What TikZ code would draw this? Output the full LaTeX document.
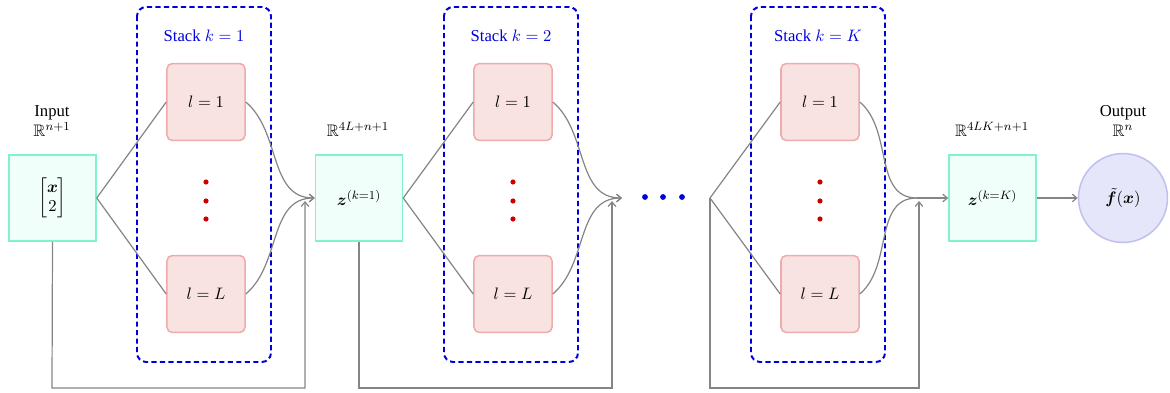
\documentclass[tikz,border=0pt]{standalone}
\usepackage{amsmath,amssymb}
\usepackage{bm}
\usepackage{fontspec}
\setmainfont{Liberation Serif}
\usetikzlibrary{arrows.meta}
\definecolor{tealB}{HTML}{80F2D2}
\definecolor{tealF}{HTML}{F0FFFA}
\definecolor{pinkB}{HTML}{F0AAAA}
\definecolor{pinkF}{HTML}{F8E2E2}
\definecolor{lavB}{HTML}{C0C0F0}
\definecolor{lavF}{HTML}{E6E6FA}
\definecolor{lineG}{HTML}{858585}
\definecolor{dotR}{HTML}{CC0000}
\definecolor{stackB}{HTML}{0000DD}
\tikzset{
  every node/.style={font=\fontsize{11}{13}\selectfont},
  vecbox/.style={draw=tealB, fill=tealF, line width=1pt, minimum width=57.4pt, minimum height=56.8pt, inner sep=0pt},
  layerbox/.style={draw=pinkB, fill=pinkF, line width=1pt, rounded corners=3.5pt, minimum width=51.5pt, minimum height=50.8pt, inner sep=0pt},
  outcirc/.style={circle, draw=lavB, fill=lavF, line width=1pt, minimum size=58.7pt, inner sep=0pt},
  stackbox/.style={draw=stackB, line width=1.3pt, dash pattern=on 3.4pt off 2.2pt, rounded corners=6pt},
  conn/.style={draw=lineG, line width=0.8pt},
  arr/.style={conn, -{Straight Barb[length=3pt,width=5pt]}},
  reddot/.style={circle, fill=dotR, inner sep=0pt, minimum size=3.4pt},
  bluedot/.style={circle, fill=stackB, inner sep=0pt, minimum size=3.8pt},
  stacklabel/.style={text=stackB, anchor=base},
  dimlabel/.style={anchor=base},
}
\begin{document}
\begin{tikzpicture}[x=0.66pt,y=-0.66pt]
\useasboundingbox (0,0) rectangle (1170,393);

% input
\node[vecbox] (in) at (52.5,198) {$\begin{bmatrix}\bm{x}\\ 2\end{bmatrix}$};
\node[dimlabel] (inlab) at (52,117) {Input};
\node[dimlabel] (indim) at (52,137) {$\mathbb{R}^{n+1}$};

% stack 1
\draw[stackbox] (137,7) rectangle (271,362);
\node[stacklabel] (s1lab) at (204,42) {Stack $k=1$};
\node[layerbox] (a1) at (206,102) {$l=1$};
\node[layerbox] (b1) at (206,294) {$l=L$};
\node[reddot] (d1a) at (206,182) {};
\node[reddot] (d1b) at (206,201) {};
\node[reddot] (d1c) at (206,219) {};

% z1
\node[vecbox] (z1) at (359,198) {$\bm{z}^{(k=1)}$};
\node[dimlabel] (z1dim) at (358,137) {$\mathbb{R}^{4L+n+1}$};

\draw[conn] (in.east) -- (a1.west);
\draw[conn] (in.east) -- (b1.west);
\draw[arr] (a1.east) to[out=-40,in=180] (z1.west);
\draw[arr] (b1.east) to[out=40,in=180] (z1.west);
\coordinate (k1) at (305,201);
\draw[arr] (in.south) -- (52,388) -| (k1);

% stack 2
\draw[stackbox] (444,7) rectangle (578,362);
\node[stacklabel] (s2lab) at (511,42) {Stack $k=2$};
\node[layerbox] (a2) at (513,102) {$l=1$};
\node[layerbox] (b2) at (513,294) {$l=L$};
\node[reddot] (d2a) at (513,182) {};
\node[reddot] (d2b) at (513,201) {};
\node[reddot] (d2c) at (513,219) {};

\coordinate (e2) at (622,198);
\draw[conn] (z1.east) -- (a2.west);
\draw[conn] (z1.east) -- (b2.west);
\draw[arr] (a2.east) to[out=-40,in=180] (e2);
\draw[arr] (b2.east) to[out=40,in=180] (e2);
\coordinate (k2) at (612,201);
\draw[arr] (z1.south) -- (359,388) -| (k2);

% ellipsis
\node[bluedot] (e1) at (645,197) {};
\node[bluedot] (e2d) at (663,197) {};
\node[bluedot] (e3) at (682,197) {};

% stack K
\coordinate (sp) at (710,198);
\draw[stackbox] (751,7) rectangle (885,362);
\node[stacklabel] (sKlab) at (818,42) {Stack $k=K$};
\node[layerbox] (aK) at (820,102) {$l=1$};
\node[layerbox] (bK) at (820,294) {$l=L$};
\node[reddot] (dKa) at (820,182) {};
\node[reddot] (dKb) at (820,201) {};
\node[reddot] (dKc) at (820,219) {};

\node[vecbox] (zK) at (992.5,198) {$\bm{z}^{(k=K)}$};
\node[dimlabel] (zKdim) at (992,137) {$\mathbb{R}^{4LK+n+1}$};
\coordinate (mK) at (917,198);

\draw[conn] (sp) -- (aK.west);
\draw[conn] (sp) -- (bK.west);
\draw[conn] (aK.east) to[out=-40,in=180] (mK);
\draw[conn] (bK.east) to[out=40,in=180] (mK);
\draw[arr] (mK) -- (zK.west);
\coordinate (kK) at (919,201);
\draw[arr] (sp) -- (710,388) -| (kK);

% output
\node[outcirc] (out) at (1123,198) {$\tilde{\bm{f}}(\bm{x})$};
\node[dimlabel] (outlab) at (1123,117) {Output};
\node[dimlabel] (outdim) at (1123,137) {$\mathbb{R}^{n}$};
\draw[arr] (zK.east) -- (out.west);
\end{tikzpicture}
\end{document}
